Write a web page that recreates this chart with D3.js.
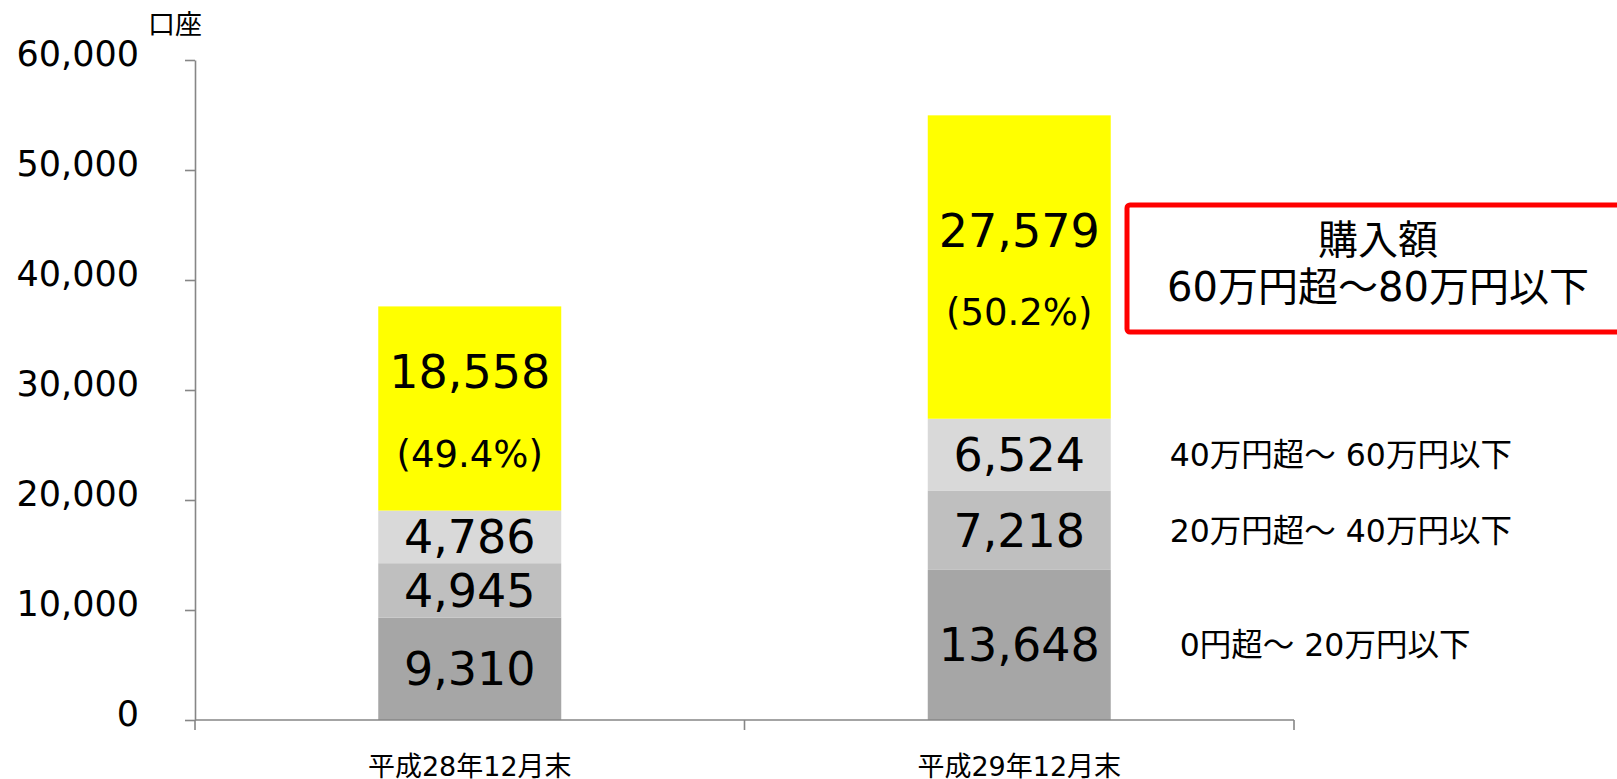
<!DOCTYPE html>
<html>
<head>
<meta charset="utf-8">
<script src="https://cdn.jsdelivr.net/npm/d3@7"></script>
<style>
  html, body { margin: 0; padding: 0; background: #fff; }
  svg { display: block; font-family: "DejaVu Sans", "Noto Sans CJK JP", sans-serif; }
  text { white-space: pre; }
</style>
</head>
<body>
<svg id="chart" width="1617" height="779"></svg>
<script>
  const categories = ["平成28年12月末", "平成29年12月末"];
  const seriesKeys = ["upTo20", "upTo40", "upTo60", "upTo80"];
  const upTo20 = [9310, 13648];
  const upTo40 = [4945, 7218];
  const upTo60 = [4786, 6524];
  const upTo80 = [18558, 27579];
  const shareLabels = ["(49.4%)", "(50.2%)"];
  const yTicks = [0, 10000, 20000, 30000, 40000, 50000, 60000];
  const sideLabels = {
    upTo60: "40万円超～ 60万円以下",
    upTo40: "20万円超～ 40万円以下",
    upTo20: " 0円超～ 20万円以下",
  };
  const calloutLines = ["購入額", "60万円超～80万円以下"];
  const unitLabel = "口座";

  const COLORS = {
    upTo20: "#a6a6a6",
    upTo40: "#bfbfbf",
    upTo60: "#d9d9d9",
    upTo80: "#ffff00",
    axis: "#868686",
    callout: "#ff0000",
  };

  const width = 1617;
  const height = 779;
  const margin = { left: 195, right: 323, top: 60, bottom: 59 };
  const barRatio = 0.333;

  const rows = categories.map((c, i) => ({
    category: c,
    upTo20: upTo20[i],
    upTo40: upTo40[i],
    upTo60: upTo60[i],
    upTo80: upTo80[i],
    share: shareLabels[i],
  }));

  const svg = d3.select("#chart");

  const x = d3.scaleBand()
    .domain(categories)
    .range([margin.left, width - margin.right])
    .padding(0);

  const y = d3.scaleLinear()
    .domain([0, 60000])
    .range([height - margin.bottom, margin.top]);

  const stacked = d3.stack().keys(seriesKeys)(rows);
  const barW = x.bandwidth() * barRatio;
  const barX = (c) => x(c) + (x.bandwidth() - barW) / 2;

  // bars
  svg.append("g")
    .selectAll("g")
    .data(stacked)
    .join("g")
    .attr("fill", (s) => COLORS[s.key])
    .selectAll("rect")
    .data((s) => s)
    .join("rect")
    .attr("x", (d) => barX(d.data.category))
    .attr("width", barW)
    .attr("y", (d) => y(d[1]))
    .attr("height", (d) => y(d[0]) - y(d[1]));

  // y axis
  const yAxis = svg.append("g")
    .attr("transform", `translate(${margin.left},0)`)
    .call(
      d3.axisLeft(y)
        .tickValues(yTicks)
        .tickSize(10)
        .tickSizeOuter(0)
        .tickPadding(46)
        .tickFormat(d3.format(","))
    )
    .attr("font-family", null)
    .attr("font-size", 35);
  yAxis.select(".domain").attr("stroke", COLORS.axis).attr("stroke-width", 1.6);
  yAxis.selectAll(".tick line").attr("stroke", COLORS.axis).attr("stroke-width", 1.6);
  yAxis.selectAll(".tick text")
    .attr("fill", "#000")
    .attr("dy", "0.16em");

  svg.append("text")
    .attr("x", 148)
    .attr("y", 34)
    .attr("font-size", 27)
    .text(unitLabel);

  // x axis (ticks at band boundaries, labels at band centres)
  const baseY = y(0);
  const xAxis = svg.append("g");
  xAxis.append("line")
    .attr("x1", x.range()[0])
    .attr("x2", x.range()[1])
    .attr("y1", baseY)
    .attr("y2", baseY)
    .attr("stroke", COLORS.axis)
    .attr("stroke-width", 1.6);
  const bounds = categories.map((c) => x(c)).concat([x.range()[1]]);
  xAxis.selectAll("line.tick")
    .data(bounds)
    .join("line")
    .attr("class", "tick")
    .attr("x1", (d) => d)
    .attr("x2", (d) => d)
    .attr("y1", baseY)
    .attr("y2", baseY + 10)
    .attr("stroke", COLORS.axis)
    .attr("stroke-width", 1.6);
  xAxis.selectAll("text")
    .data(categories)
    .join("text")
    .attr("x", (c) => x(c) + x.bandwidth() / 2)
    .attr("y", 776)
    .attr("text-anchor", "middle")
    .attr("font-size", 27)
    .text((c) => c);

  // value labels in bars
  const labels = svg.append("g").attr("text-anchor", "middle").attr("fill", "#000");
  stacked.forEach((s) => {
    s.forEach((d) => {
      const cx = barX(d.data.category) + barW / 2;
      const cy = (y(d[0]) + y(d[1])) / 2;
      const isTop = s.key === "upTo80";
      labels.append("text")
        .attr("x", cx)
        .attr("y", isTop ? cy - 37 : cy)
        .attr("dy", "0.36em")
        .attr("font-size", 46)
        .text(d3.format(",")(d.data[s.key]));
      if (isTop) {
        labels.append("text")
          .attr("x", cx)
          .attr("y", cy + 45)
          .attr("dy", "0.36em")
          .attr("font-size", 37)
          .text(d.data.share);
      }
    });
  });

  // side labels beside the second bar
  const last = categories[categories.length - 1];
  const lastIdx = categories.length - 1;
  const sideX = barX(last) + barW + 59;
  stacked.filter((s) => sideLabels[s.key]).forEach((s) => {
    const d = s[lastIdx];
    svg.append("text")
      .attr("x", sideX)
      .attr("y", (y(d[0]) + y(d[1])) / 2)
      .attr("dy", "0.36em")
      .attr("font-size", 31.5)
      .text(sideLabels[s.key]);
  });

  // callout box for the top band
  const box = { x: 1127, y: 205, w: 502, h: 127 };
  svg.append("rect")
    .attr("x", box.x)
    .attr("y", box.y)
    .attr("width", box.w)
    .attr("height", box.h)
    .attr("rx", 3)
    .attr("fill", "#fff")
    .attr("stroke", COLORS.callout)
    .attr("stroke-width", 5);
  svg.append("g")
    .attr("text-anchor", "middle")
    .selectAll("text")
    .data(calloutLines)
    .join("text")
    .attr("x", 1378)
    .attr("y", (d, i) => 240 + i * 47)
    .attr("dy", "0.36em")
    .attr("font-size", 40)
    .text((d) => d);
</script>
</body>
</html>
